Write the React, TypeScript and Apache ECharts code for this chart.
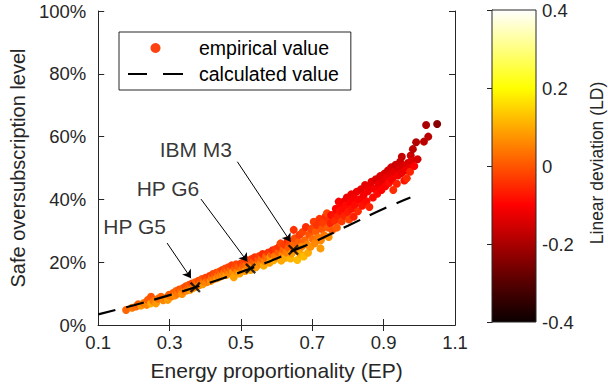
import React, { useEffect, useRef } from "react";
import * as echarts from "echarts";

// [energy proportionality, safe oversubscription level (%), linear deviation]
const empiricalPoints: number[][] = [
  [0.178, 4.8, 0.02], [0.195, 5.5, 0.04], [0.206, 5.9, 0.03], [0.212, 6.6, 0.01], [0.22, 6.2, 0.07],
  [0.228, 7.0, 0.04], [0.236, 6.4, 0.06], [0.239, 8.0, 0.01], [0.248, 6.9, 0.1], [0.248, 9.0, 0.0],
  [0.255, 7.6, 0.04], [0.262, 6.9, 0.08], [0.268, 8.4, 0.03], [0.276, 9.0, 0.02], [0.282, 7.9, 0.06],
  [0.29, 8.6, 0.04], [0.295, 8.0, 0.08], [0.298, 9.6, 0.01], [0.305, 9.1, 0.05], [0.31, 10.2, 0.01],
  [0.315, 9.4, 0.06], [0.318, 10.8, 0.02], [0.323, 10.0, 0.04], [0.327, 11.3, 0.0], [0.332, 10.6, 0.03],
  [0.335, 9.9, 0.07], [0.338, 11.8, 0.01], [0.342, 10.9, 0.04], [0.345, 12.3, -0.01], [0.348, 11.0, 0.06],
  [0.352, 11.6, 0.02], [0.355, 12.8, 0.0], [0.358, 11.2, 0.08], [0.36, 12.1, 0.04], [0.363, 13.2, -0.02],
  [0.366, 11.8, 0.06], [0.369, 12.6, 0.03], [0.372, 13.6, 0.01], [0.375, 12.2, 0.07], [0.378, 13.0, 0.04],
  [0.381, 14.1, -0.01], [0.384, 12.7, 0.06], [0.387, 13.5, 0.02], [0.39, 14.6, 0.0], [0.393, 13.0, 0.08],
  [0.396, 13.9, 0.04], [0.4, 15.0, -0.02], [0.403, 13.6, 0.06], [0.406, 13.8, 0.05], [0.409, 14.6, 0.01],
  [0.412, 15.6, -0.03], [0.415, 14.0, 0.07], [0.418, 15.1, 0.03], [0.421, 16.2, -0.02], [0.424, 14.6, 0.06],
  [0.427, 15.5, 0.02], [0.43, 16.6, -0.01], [0.433, 14.9, 0.08], [0.436, 15.8, 0.04], [0.439, 17.0, 0.0],
  [0.442, 15.4, 0.06], [0.445, 16.3, 0.03], [0.448, 17.5, -0.03], [0.45, 15.8, 0.07],
  [0.453, 16.8, 0.04], [0.456, 18.0, -0.01], [0.459, 15.9, 0.08], [0.462, 17.2, 0.03], [0.465, 18.4, -0.02],
  [0.468, 16.5, 0.06], [0.471, 17.6, 0.02], [0.474, 19.0, -0.03], [0.477, 16.9, 0.07], [0.48, 15.2, 0.09],
  [0.483, 18.1, 0.01], [0.486, 19.3, -0.02], [0.49, 17.0, 0.06], [0.493, 18.5, 0.01], [0.496, 16.4, 0.09],
  [0.5, 19.6, -0.03], [0.503, 17.8, 0.04], [0.506, 18.9, 0.01], [0.509, 20.2, -0.02], [0.512, 17.2, 0.08],
  [0.515, 19.2, 0.02], [0.518, 20.6, -0.04], [0.521, 18.5, 0.05], [0.524, 19.6, 0.01], [0.527, 17.5, 0.1],
  [0.53, 21.0, -0.03], [0.533, 18.9, 0.06], [0.536, 20.2, 0.01], [0.539, 21.6, -0.04], [0.542, 18.4, 0.08],
  [0.546, 19.1, 0.07], [0.549, 20.7, 0.01], [0.552, 22.0, -0.03], [0.555, 19.5, 0.06], [0.558, 21.2, 0.02],
  [0.561, 22.6, -0.05], [0.564, 18.9, 0.1], [0.567, 20.4, 0.05], [0.57, 21.8, 0.01], [0.574, 21.2, 0.03],
  [0.577, 23.1, -0.04], [0.58, 19.8, 0.09], [0.583, 21.8, 0.08], [0.586, 22.5, 0.01], [0.589, 23.8, -0.05],
  [0.592, 20.6, 0.1], [0.595, 22.0, 0.04], [0.598, 24.2, -0.03],
  [0.602, 21.6, 0.05], [0.605, 23.2, 0.01], [0.608, 25.0, -0.04], [0.611, 26.0, -0.02], [0.613, 20.5, 0.1],
  [0.616, 22.4, 0.06], [0.619, 24.0, 0.02], [0.622, 25.6, -0.03], [0.625, 21.4, 0.1], [0.628, 23.1, 0.05],
  [0.631, 27.0, -0.05], [0.634, 24.6, 0.01], [0.637, 26.2, -0.02], [0.639, 21.2, 0.11], [0.642, 22.8, 0.08],
  [0.645, 25.4, 0.02], [0.648, 30.3, -0.04], [0.651, 27.6, -0.01], [0.654, 23.8, 0.06], [0.658, 20.7, 0.12],
  [0.661, 26.4, 0.01], [0.664, 28.7, -0.03], [0.667, 22.6, 0.1], [0.67, 24.9, 0.06], [0.673, 29.6, -0.02],
  [0.676, 21.8, 0.12], [0.679, 27.0, 0.02], [0.682, 31.2, -0.05], [0.685, 25.6, 0.05], [0.688, 23.0, 0.1],
  [0.691, 28.8, 0.0], [0.695, 24.9, 0.07], [0.698, 30.6, -0.02], [0.701, 27.4, 0.03], [0.704, 32.9, -0.03],
  [0.707, 26.0, 0.06], [0.71, 29.8, 0.01], [0.713, 31.8, -0.04], [0.716, 27.8, 0.04], [0.72, 33.8, -0.04],
  [0.723, 24.4, 0.08], [0.724, 27.0, 0.06], [0.727, 30.6, 0.0], [0.73, 32.6, -0.03], [0.733, 28.6, 0.04],
  [0.737, 34.6, -0.05], [0.741, 35.6, -0.02], [0.744, 31.0, 0.01], [0.746, 28.0, 0.07], [0.749, 33.4, -0.04],
  [0.751, 32.4, -0.06], [0.753, 35.0, -0.09], [0.756, 30.2, 0.0], [0.76, 35.0, -0.08], [0.763, 33.2, -0.05],
  [0.766, 37.0, -0.1], [0.769, 31.0, 0.01], [0.772, 34.6, -0.06], [0.774, 39.3, -0.11], [0.777, 36.2, -0.08],
  [0.779, 38.8, -0.1], [0.782, 33.0, -0.03], [0.785, 36.8, -0.09], [0.788, 39.3, -0.11], [0.791, 34.8, -0.06],
  [0.794, 38.0, -0.09], [0.797, 40.6, -0.12], [0.8, 36.0, -0.07], [0.803, 33.6, -0.02], [0.806, 39.0, -0.1],
  [0.809, 41.6, -0.12], [0.812, 37.0, -0.08], [0.816, 34.5, -0.06], [0.817, 40.3, -0.11], [0.82, 38.4, -0.09],
  [0.824, 42.4, -0.12], [0.828, 36.2, -0.05], [0.832, 40.0, -0.1], [0.836, 43.2, -0.13], [0.84, 38.0, -0.08],
  [0.844, 41.4, -0.11], [0.848, 44.6, -0.13], [0.852, 39.4, -0.09], [0.856, 42.6, -0.11], [0.86, 37.6, -0.06],
  [0.862, 44.0, -0.12], [0.866, 45.6, -0.13], [0.87, 40.6, -0.09], [0.874, 43.4, -0.11], [0.878, 46.4, -0.14],
  [0.882, 41.8, -0.09], [0.886, 44.8, -0.12], [0.89, 47.4, -0.14], [0.894, 43.0, -0.1], [0.898, 45.8, -0.13],
  [0.902, 48.2, -0.14], [0.905, 44.2, -0.1], [0.908, 46.8, -0.12], [0.912, 49.2, -0.15], [0.915, 45.2, -0.09],
  [0.918, 47.8, -0.13], [0.921, 50.2, -0.15], [0.924, 46.4, -0.11], [0.927, 43.0, -0.05], [0.93, 48.8, -0.13],
  [0.933, 51.0, -0.16], [0.937, 45.0, -0.06], [0.94, 47.6, -0.11], [0.943, 49.8, -0.14], [0.946, 52.0, -0.16],
  [0.95, 48.4, -0.12], [0.951, 53.6, -0.17], [0.955, 50.6, -0.14], [0.958, 46.0, -0.08], [0.962, 49.2, -0.12],
  [0.965, 46.7, -0.05], [0.968, 51.6, -0.14], [0.972, 50.0, -0.12], [0.974, 48.8, -0.06], [0.976, 54.0, -0.16],
  [0.978, 52.2, -0.14], [0.982, 56.0, -0.18], [0.986, 50.6, -0.1], [0.991, 58.2, -0.19], [0.995, 52.8, -0.15],
  [1.013, 58.4, -0.18], [1.019, 63.7, -0.2], [1.025, 60.0, -0.18], [1.05, 64.0, -0.24],
];

// calculated value curve: [EP, level %]
const calculatedCurve: number[][] = [
  [0.1, 3.4], [0.2, 6.3], [0.3, 9.5], [0.372, 12.0], [0.45, 14.9], [0.527, 18.0],
  [0.6, 21.2], [0.647, 23.7], [0.7, 26.2], [0.8, 31.6], [0.9, 37.0], [0.975, 40.6],
];

// named servers: [label, EP, level %]
const servers: [string, number, number][] = [
  ["HP G5", 0.372, 12.0],
  ["HP G6", 0.527, 18.0],
  ["IBM M3", 0.647, 23.9],
];
// label text positions: [label, EP, level %]
const serverLabels: [string, number, number][] = [
  ["HP G5", 0.202, 31.3],
  ["HP G6", 0.2955, 43.4],
  ["IBM M3", 0.3737, 56.0],
];
// arrows: [fromEP, fromLevel, toEP, toLevel]
const arrows: number[][] = [
  [0.293, 26.1, 0.36, 14.9],
  [0.388, 40.1, 0.518, 20.2],
  [0.49, 52.0, 0.639, 26.5],
];

const xTickLabels = [0.1, 0.3, 0.5, 0.7, 0.9, 1.1];
const xTickMarks = [0.3, 0.5, 0.7, 0.9];
const colorbarRange = [[0, -0.4, 1, 0.4]];
const hotColors = ["#0b0000", "#550000", "#aa0000", "#ff0000", "#ff5500", "#ffaa00", "#ffff00", "#ffff80", "#ffffff"];

const FONT = "'Liberation Sans', Arial, Helvetica, sans-serif";
const AX = "#262626";
const DASH_ICON = "path://M0,0H19V2.2H0Z M35,0H55V2.2H35Z";

export default function App() {
  const ref = useRef<HTMLDivElement>(null);
  useEffect(() => {
    if (!ref.current) return;
    const chart = echarts.init(ref.current, undefined, { renderer: "svg" });
    const gradient = new echarts.graphic.LinearGradient(
      0, 0, 0, 1,
      hotColors.slice().reverse().map((c, i) => ({ offset: i / (hotColors.length - 1), color: c }))
    );
    const tickLine = { lineStyle: { color: AX, width: 1 } };
    const option: any = {
      animation: false,
      backgroundColor: "#fff",
      textStyle: { fontFamily: FONT },
      grid: [
        { left: 97, right: 153, top: 11, bottom: 62 },
        { left: 492, width: 44, top: 10, bottom: 65 },
      ],
      xAxis: [
        {
          gridIndex: 0, type: "value", position: "bottom", min: 0.1, max: 1.1,
          name: "Energy proportionality (EP)", nameLocation: "middle", nameGap: 35,
          nameTextStyle: { fontSize: 21, color: AX, fontFamily: FONT },
          axisLine: { show: true, lineStyle: { color: AX, width: 1 } },
          axisTick: { show: true, inside: true, length: 6, customValues: xTickMarks, ...tickLine },
          axisLabel: {
            show: true, customValues: xTickLabels, fontSize: 18.5, color: AX, margin: 8, fontFamily: FONT,
            formatter: (v: number) => v.toFixed(1),
          },
          splitLine: { show: false },
        },
        {
          gridIndex: 0, type: "value", position: "top", min: 0.1, max: 1.1,
          axisLine: { show: true, lineStyle: { color: AX, width: 1 } },
          axisTick: { show: true, inside: true, length: 6, customValues: xTickMarks, ...tickLine },
          axisLabel: { show: false },
          splitLine: { show: false },
        },
        { gridIndex: 1, type: "value", min: 0, max: 1, show: false },
      ],
      yAxis: [
        {
          gridIndex: 0, type: "value", position: "left", min: 0, max: 100, interval: 20,
          name: "Safe oversubscription level", nameLocation: "middle", nameGap: 63,
          nameTextStyle: { fontSize: 20, color: AX, fontFamily: FONT },
          axisLine: { show: true, lineStyle: { color: AX, width: 1 } },
          axisTick: { show: true, inside: true, length: 6, ...tickLine },
          axisLabel: { fontSize: 18.5, color: AX, margin: 12, formatter: "{value}%", fontFamily: FONT },
          splitLine: { show: false },
        },
        {
          gridIndex: 0, type: "value", position: "right", min: 0, max: 100, interval: 20,
          axisLine: { show: true, lineStyle: { color: AX, width: 1 } },
          axisTick: { show: true, inside: true, length: 6, ...tickLine },
          axisLabel: { show: false },
          splitLine: { show: false },
        },
        {
          gridIndex: 1, type: "value", position: "right", min: -0.4, max: 0.4, interval: 0.2,
          name: "Linear deviation (LD)", nameLocation: "middle", nameGap: 52, nameRotate: 90,
          nameTextStyle: { fontSize: 17.5, color: AX, fontFamily: FONT, padding: [0, 0, 0, 6] },
          axisLine: { show: true, lineStyle: { color: AX, width: 1 } },
          axisTick: { show: true, inside: true, length: 5, ...tickLine },
          axisLabel: {
            fontSize: 18.5, color: AX, margin: 6, fontFamily: FONT,
            formatter: (v: number) => (Math.abs(v) < 1e-9 ? "0" : v.toFixed(1)),
          },
          splitLine: { show: false },
        },
      ],
      visualMap: {
        type: "continuous", show: false, min: -0.4, max: 0.4, dimension: 2, seriesIndex: 0,
        inRange: { color: hotColors },
      },
      legend: {
        left: 119, top: 32, orient: "vertical", padding: [6, 12, 6, 9], itemGap: 6,
        itemWidth: 55, itemHeight: 10, backgroundColor: "#fff", borderColor: AX, borderWidth: 1,
        textStyle: { fontSize: 19.5, color: "#000", fontFamily: FONT, padding: [0, 0, 0, 11] },
        data: [
          { name: "empirical value", icon: "circle", itemStyle: { color: "#ff4010" } },
          { name: "calculated value", icon: DASH_ICON, itemStyle: { color: "#000", borderWidth: 0 } },
        ],
      },
      series: [
        {
          name: "empirical value", type: "scatter", xAxisIndex: 0, yAxisIndex: 0,
          symbolSize: 8, data: empiricalPoints, itemStyle: { color: "#ff4010", opacity: 1 },
        },
        {
          name: "calculated value", type: "line", xAxisIndex: 0, yAxisIndex: 0, smooth: true,
          symbol: "none", showSymbol: false, data: calculatedCurve,
          lineStyle: { color: "#000", width: 2.2, type: [18, 11] },
          itemStyle: { color: "#000" },
        },
        {
          name: "servers", type: "scatter", xAxisIndex: 0, yAxisIndex: 0, z: 5,
          symbol: "path://M0,1.5L1.5,0L5,3.5L8.5,0L10,1.5L6.5,5L10,8.5L8.5,10L5,6.5L1.5,10L0,8.5L3.5,5Z",
          symbolSize: 11, itemStyle: { color: "#000" },
          data: servers.map((s) => ({ name: s[0], value: [s[1], s[2]] })),
          markLine: {
            silent: true, symbol: ["none", "arrow"], symbolSize: 8, animation: false,
            lineStyle: { color: "#000", width: 1, type: "solid" }, label: { show: false },
            data: arrows.map((a) => [{ coord: [a[0], a[1]] }, { coord: [a[2], a[3]] }]),
          },
        },
        {
          name: "server labels", type: "scatter", xAxisIndex: 0, yAxisIndex: 0, symbolSize: 1,
          itemStyle: { color: "rgba(0,0,0,0)" }, silent: true,
          label: { show: true, position: "inside", formatter: "{b}", fontSize: 21, color: "#000", fontFamily: FONT },
          data: serverLabels.map((s) => ({ name: s[0], value: [s[1], s[2]] })),
        },
        {
          name: "colorbar", type: "custom", xAxisIndex: 2, yAxisIndex: 2, silent: true, clip: false,
          data: colorbarRange,
          renderItem: (_p: any, api: any) => {
            const p0 = api.coord([api.value(0), api.value(1)]);
            const p1 = api.coord([api.value(2), api.value(3)]);
            return {
              type: "rect",
              shape: { x: p0[0], y: p1[1], width: p1[0] - p0[0], height: p0[1] - p1[1] },
              style: { fill: gradient, stroke: AX, lineWidth: 1 },
            };
          },
        },
      ],
    };
    chart.setOption(option);
    return () => chart.dispose();
  }, []);
  return <div ref={ref} style={{ position: "fixed", left: 0, top: 0, width: 608, height: 387 }} />;
}
